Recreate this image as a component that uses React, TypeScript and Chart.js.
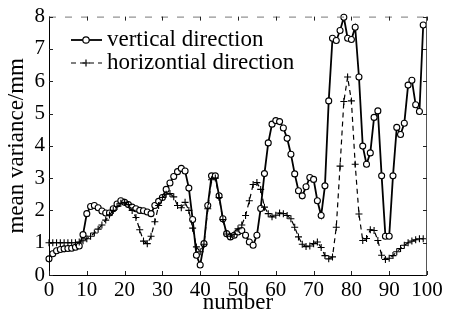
import React, { useEffect, useRef } from "react";
import { Chart, registerables } from "chart.js";

Chart.register(...registerables);

const sampleNumbers = [
  0, 1, 2, 3, 4, 5, 6, 7, 8, 9,
  10, 11, 12, 13, 14, 15, 16, 17, 18, 19,
  20, 21, 22, 23, 24, 25, 26, 27, 28, 29,
  30, 31, 32, 33, 34, 35, 36, 37, 38, 39,
  40, 41, 42, 43, 44, 45, 46, 47, 48, 49,
  50, 51, 52, 53, 54, 55, 56, 57, 58, 59,
  60, 61, 62, 63, 64, 65, 66, 67, 68, 69,
  70, 71, 72, 73, 74, 75, 76, 77, 78, 79,
  80, 81, 82, 83, 84, 85, 86, 87, 88, 89,
  90, 91, 92, 93, 94, 95, 96, 97, 98, 99,
];

const verticalDirection = [
  0.5, 0.66, 0.75, 0.79, 0.81, 0.82, 0.83, 0.86, 0.9, 1.25,
  1.9, 2.12, 2.15, 2.08, 1.98, 1.92, 1.92, 2.05, 2.2, 2.3,
  2.25, 2.18, 2.1, 2.05, 2.0, 1.99, 1.95, 1.9, 2.15, 2.28,
  2.4, 2.65, 2.85, 3.05, 3.2, 3.3, 3.22, 2.69, 1.72, 0.61,
  0.31, 0.97, 2.15, 3.07, 3.07, 2.45, 1.74, 1.28, 1.18, 1.23,
  1.33, 1.38, 1.23, 1.02, 0.92, 1.23, 2.06, 3.14, 4.09, 4.67,
  4.78, 4.75, 4.55, 4.23, 3.74, 3.13, 2.61, 2.45, 2.73, 3.02,
  2.96, 2.3, 1.84, 2.76, 5.39, 7.33, 7.26, 7.57, 7.98, 7.33,
  7.29, 7.67, 6.13, 3.99, 3.43, 3.78, 4.88, 5.08, 3.07, 1.2,
  1.2, 3.07, 4.57, 4.35, 4.7, 5.88, 6.03, 5.27, 5.06, 7.74,
];

const horizontialDirection = [
  1.0, 1.0, 1.0, 1.0, 1.0, 1.0, 1.0, 1.0, 1.02, 1.06,
  1.12, 1.2, 1.3, 1.42, 1.55, 1.7, 1.86, 2.0, 2.12, 2.22,
  2.25, 2.18, 2.0, 1.78, 1.4, 1.05, 0.97, 1.2, 1.65, 2.15,
  2.4, 2.5, 2.52, 2.42, 2.15, 2.08, 2.25, 2.0, 1.45, 0.87,
  0.72, 0.95, 2.05, 2.95, 3.0, 2.4, 1.72, 1.27, 1.2, 1.26,
  1.43, 1.55, 1.84, 2.3, 2.8, 2.86, 2.65, 2.1, 1.9, 1.8,
  1.85, 1.92, 1.9, 1.84, 1.74, 1.48, 1.18, 0.95, 0.88, 0.9,
  0.97, 1.02, 0.85, 0.6, 0.5, 0.56, 1.48, 3.37, 5.37, 6.13,
  5.39, 3.43, 1.89, 1.07, 1.13, 1.4, 1.38, 1.07, 0.61, 0.48,
  0.52, 0.6, 0.72, 0.82, 0.92, 1.0, 1.05, 1.09, 1.12, 1.12,
];

const xTickValues = [0, 10, 20, 30, 40, 50, 60, 70, 80, 90, 100];
const yTickValues = [0, 1, 2, 3, 4, 5, 6, 7, 8];
const seriesLabels = ["vertical direction", "horizontial direction"];
const xTitle = "number";
const yTitle = "mean variance/mm";

const SERIF = "'Liberation Serif', 'Times New Roman', serif";

const framePlugin = {
  id: "frame",
  afterDatasetsDraw(chart: any) {
    const { ctx, chartArea, scales } = chart;
    const { left, right, top, bottom } = chartArea;
    ctx.save();
    ctx.lineWidth = 1;
    ctx.strokeStyle = "#000";
    ctx.beginPath();
    ctx.moveTo(left + 0.5, top);
    ctx.lineTo(left + 0.5, bottom + 0.5);
    ctx.lineTo(right, bottom + 0.5);
    ctx.stroke();
    ctx.strokeStyle = "#555";
    ctx.beginPath();
    ctx.moveTo(right - 0.5, top);
    ctx.lineTo(right - 0.5, bottom);
    ctx.stroke();
    ctx.setLineDash([7, 9]);
    ctx.strokeStyle = "#777";
    ctx.beginPath();
    ctx.moveTo(left, top + 0.5);
    ctx.lineTo(right, top + 0.5);
    ctx.stroke();
    ctx.setLineDash([]);
    ctx.strokeStyle = "#222";
    for (const v of yTickValues) {
      const py = Math.round(scales.y.getPixelForValue(v)) + 0.5;
      ctx.beginPath();
      ctx.moveTo(left, py);
      ctx.lineTo(left + 4, py);
      ctx.moveTo(right, py);
      ctx.lineTo(right - 4, py);
      ctx.stroke();
    }
    for (const v of xTickValues) {
      const px = Math.round(scales.x.getPixelForValue(v)) + 0.5;
      ctx.beginPath();
      ctx.moveTo(px, bottom);
      ctx.lineTo(px, bottom - 4);
      ctx.moveTo(px, top);
      ctx.lineTo(px, top + 4);
      ctx.stroke();
    }
    ctx.restore();
  },
};

const legendPlugin = {
  id: "inlineLegend",
  afterDatasetsDraw(chart: any) {
    const { ctx } = chart;
    const rows = [
      { y: 40, dash: [] as number[], marker: "circle", width: 1.8 },
      { y: 63, dash: [5, 4], marker: "cross", width: 1.2 },
    ];
    ctx.save();
    rows.forEach((r, i) => {
      ctx.strokeStyle = "#000";
      ctx.lineWidth = r.width;
      ctx.setLineDash(r.dash);
      ctx.beginPath();
      ctx.moveTo(71, r.y);
      ctx.lineTo(102, r.y);
      ctx.stroke();
      ctx.setLineDash([]);
      ctx.lineWidth = 1.2;
      if (r.marker === "circle") {
        ctx.fillStyle = "#fff";
        ctx.beginPath();
        ctx.arc(86, r.y, 3.2, 0, Math.PI * 2);
        ctx.fill();
        ctx.stroke();
      } else {
        ctx.beginPath();
        ctx.moveTo(82.5, r.y);
        ctx.lineTo(89.5, r.y);
        ctx.moveTo(86, r.y - 3.5);
        ctx.lineTo(86, r.y + 3.5);
        ctx.stroke();
      }
      ctx.fillStyle = "#000";
      ctx.font = `23px ${SERIF}`;
      ctx.textBaseline = "middle";
      ctx.textAlign = "left";
      ctx.fillText(seriesLabels[i], 107, r.y);
    });
    ctx.restore();
  },
};

export default function App() {
  const canvasRef = useRef<HTMLCanvasElement | null>(null);

  useEffect(() => {
    document.body.style.margin = "0";
    const canvas = canvasRef.current;
    if (!canvas) return;
    const vData = sampleNumbers.map((x, i) => ({ x, y: verticalDirection[i] }));
    const hData = sampleNumbers.map((x, i) => ({ x, y: horizontialDirection[i] }));
    const chart = new Chart(canvas, {
      type: "line",
      data: {
        datasets: [
          {
            label: seriesLabels[1],
            data: hData,
            borderColor: "#000",
            borderWidth: 1.2,
            borderDash: [5, 4],
            pointStyle: "cross",
            pointRadius: 3.5,
            pointBorderColor: "#000",
            pointBorderWidth: 1.1,
            fill: false,
            tension: 0,
            clip: 8,
          },
          {
            label: seriesLabels[0],
            data: vData,
            borderColor: "#000",
            borderWidth: 1.8,
            pointStyle: "circle",
            pointRadius: 3,
            pointBackgroundColor: "#fff",
            pointBorderColor: "#000",
            pointBorderWidth: 1.1,
            fill: false,
            tension: 0,
            clip: 8,
          },
        ],
      },
      options: {
        responsive: false,
        animation: false,
        layout: { padding: { top: 14, right: 23, left: 0, bottom: 0 } },
        plugins: {
          legend: { display: false },
          tooltip: { enabled: false },
        },
        scales: {
          x: {
            type: "linear",
            min: 0,
            max: 100,
            grid: { display: false, drawTicks: false },
            border: { display: false },
            ticks: {
              stepSize: 10,
              autoSkip: false,
              maxRotation: 0,
              padding: 3,
              color: "#000",
              font: { family: SERIF, size: 21 },
            },
            title: {
              display: true,
              text: xTitle,
              color: "#000",
              font: { family: SERIF, size: 23 },
              padding: { top: 0, bottom: 3 },
            },
            afterFit(scale: any) {
              scale.height = 45;
            },
          },
          y: {
            min: 0,
            max: 8,
            grid: { display: false, drawTicks: false },
            border: { display: false },
            ticks: {
              stepSize: 1,
              padding: 4,
              color: "#000",
              font: { family: SERIF, size: 21 },
            },
            title: {
              display: true,
              text: yTitle,
              color: "#000",
              font: { family: SERIF, size: 23 },
              padding: { top: 3, bottom: 0 },
            },
            afterFit(scale: any) {
              scale.width = 49;
            },
          },
        },
      },
      plugins: [framePlugin, legendPlugin],
    });
    return () => chart.destroy();
  }, []);

  return (
    <div style={{ width: 450, height: 320, background: "#fff" }}>
      <canvas ref={canvasRef} width={450} height={320} />
    </div>
  );
}
